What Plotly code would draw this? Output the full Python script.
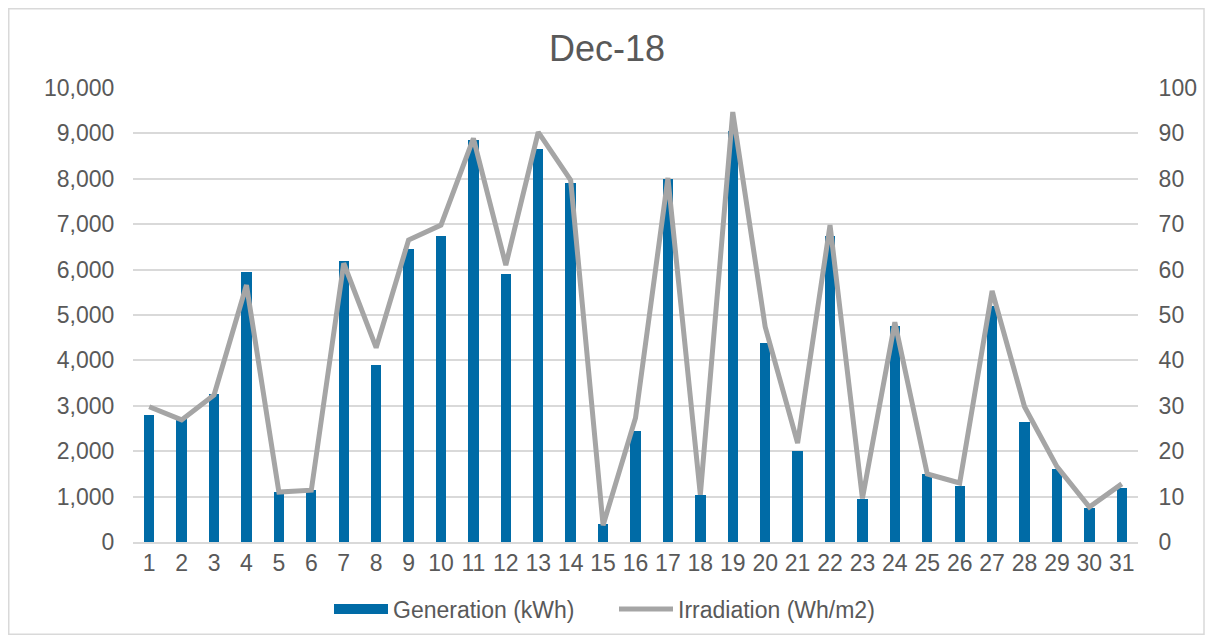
import plotly.graph_objects as go

days = list(range(1, 32))
generation = [2800, 2700, 3250, 5950, 1100, 1150, 6200, 3900, 6450, 6750,
              8850, 5900, 8650, 7900, 400, 2450, 8000, 1030, 9050, 4380,
              2000, 6750, 950, 4750, 1500, 1240, 5200, 2650, 1600, 750, 1190]
irradiation = [29.8, 26.9, 32.4, 56.6, 11.0, 11.4, 61.4, 42.8, 66.5, 69.8,
               88.9, 61.0, 90.3, 79.7, 3.7, 27.3, 80.2, 10.4, 94.7, 47.4,
               21.8, 69.8, 9.6, 48.4, 15.0, 13.0, 55.3, 29.8, 16.6, 7.7, 12.8]

# page is offset by the default 8px body margin
W, H = 1200, 627
L, R, T, B = 125, 70, 80, 93
pw, ph = W - L - R, H - T - B

blue = "#006BA6"
grey = "#A5A5A5"
font_col = "#595959"
fs = 23

fig = go.Figure()
fig.add_trace(go.Bar(x=days, y=generation, name="Generation (kWh)", showlegend=False,
                     marker=dict(color=blue, line=dict(width=0)), width=0.32))
# legend proxy for the bar series (wide rectangle swatch)
fig.add_trace(go.Scatter(x=[None], y=[None], name="Generation (kWh)", mode="lines",
                         line=dict(color=blue, width=13)))
fig.add_trace(go.Scatter(x=days, y=irradiation, name="Irradiation (Wh/m2)", yaxis="y2",
                         mode="lines", line=dict(color=grey, width=5)))

fig.update_layout(
    width=W, height=H,
    margin=dict(l=L, r=R, t=T, b=B, autoexpand=False),
    paper_bgcolor="white", plot_bgcolor="white",
    font=dict(family="Liberation Sans, Arial", color=font_col, size=fs),
    title=dict(text="Dec-18", x=599 / W, xanchor="center",
               y=1 - 40 / H, yanchor="middle",
               font=dict(size=36, color=font_col)),
    xaxis=dict(range=[0.5, 31.5], tickmode="array", tickvals=days, ticktext=[str(d) for d in days],
               showgrid=False, showline=True, linecolor="#D9D9D9", linewidth=1.5, ticks="",
               zeroline=False, tickfont=dict(size=fs), automargin=False),
    yaxis=dict(range=[0, 10000], dtick=1000, tickformat=",", gridcolor="#D9D9D9",
               gridwidth=1.5, zeroline=False, showline=False, ticks="outside",
               tickcolor="rgba(0,0,0,0)", ticklen=13, tickfont=dict(size=fs), automargin=False),
    yaxis2=dict(range=[0, 100], dtick=10, overlaying="y", side="right", showgrid=False,
                zeroline=False, showline=False, ticks="outside",
                tickcolor="rgba(0,0,0,0)", ticklen=15, tickfont=dict(size=fs), automargin=False),
    legend=dict(orientation="h", xref="container", yref="container",
                x=(334 - 8 - 5) / W, xanchor="left", y=1 - 601 / H,
                yanchor="middle", font=dict(size=fs, color=font_col), traceorder="normal",
                itemwidth=54, entrywidth=216, entrywidthmode="pixels",
                bgcolor="rgba(0,0,0,0)"),
    bargap=0,
    shapes=[dict(type="rect", xref="paper", yref="paper",
                 x0=(0.75 - L) / pw, x1=(1196 - L) / pw,
                 y0=(T + ph - 626.25) / ph, y1=(T + ph - 0.75) / ph,
                 line=dict(color="#D9D9D9", width=1.5), fillcolor="rgba(0,0,0,0)", layer="below")],
)

fig.write_html("out.html")
